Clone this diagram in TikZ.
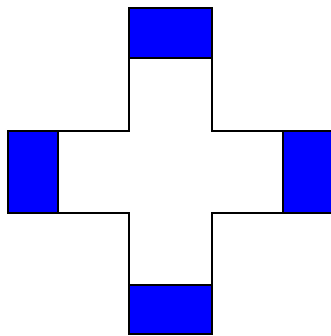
\documentclass[tikz,border=0pt]{standalone}
\usetikzlibrary{calc}
\tikzset{crosspic/.style={
  x=0.03cm, y=-0.03cm,
  outline/.style={draw=black, line width=1.2pt, line join=miter},
  port/.style={fill=blue, draw=black, line width=1.2pt},
}}
\begin{document}
\begin{tikzpicture}[crosspic]
% ---- page frame (330 x 336 px) ----
\useasboundingbox (0,0) rectangle (330,336);
% ---- cross outline ----
\draw[outline] (129,8) -- (212,8) -- (212,131) -- (333,131) -- (333,213)
  -- (212,213) -- (212,334) -- (129,334) -- (129,213) -- (8,213)
  -- (8,131) -- (129,131) -- cycle;
% ---- blue ends of the four arms ----
\filldraw[port] (129,8)   rectangle (212,58);   % top
\filldraw[port] (8,131)   rectangle (58,213);   % left
\filldraw[port] (283,131) rectangle (333,213);  % right
\filldraw[port] (129,285) rectangle (212,334);  % bottom
\end{tikzpicture}
\end{document}
